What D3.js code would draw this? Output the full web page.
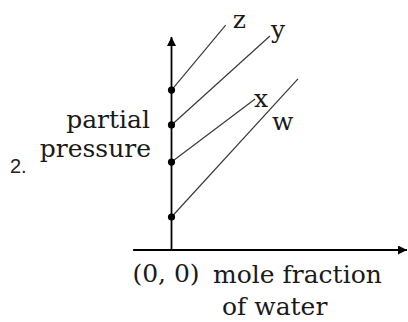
<!DOCTYPE html>
<html>
<head>
<meta charset="utf-8">
<script src="https://cdn.jsdelivr.net/npm/d3@7"></script>
<style>
  body { margin: 0; background: #fff; }
  svg { display: block; }
  .serif { font-family: "DejaVu Serif", serif; fill: #1a1a1a; }
</style>
</head>
<body>
<div id="chart"></div>
<script>
// Series names (one line per liquid)
const seriesNames = ['w', 'x', 'y', 'z'];
// Partial pressure where each line meets the y axis (mole fraction 0)
const startPressure = [0.155, 0.413, 0.587, 0.751];
// Where each line stops
const endFraction = [0.537, 0.355, 0.418, 0.230];
const endPressure = [0.803, 0.709, 1.005, 1.056];
// Axis extents in data units
const xAxisExtent = [-0.163, 1];
const yAxisExtent = [0, 1];

const width = 408, height = 322;

const svg = d3.select('#chart')
    .append('svg')
    .attr('width', width)
    .attr('height', height);

const x = d3.scaleLinear().domain([0, 1]).range([171.5, 407]);
const y = d3.scaleLinear().domain([0, 1]).range([250, 37]);

// Arrowhead marker
const defs = svg.append('defs');
defs.append('marker')
    .attr('id', 'arrow')
    .attr('viewBox', '0 0 10 10')
    .attr('refX', 10)
    .attr('refY', 5)
    .attr('markerUnits', 'userSpaceOnUse')
    .attr('markerWidth', 10.5)
    .attr('markerHeight', 9)
    .attr('orient', 'auto')
    .append('path')
    .attr('d', 'M0,0 L10,5 L0,10 Z')
    .attr('fill', '#000');

// Axes
svg.append('line')
    .attr('x1', x(xAxisExtent[0])).attr('y1', y(0))
    .attr('x2', x(xAxisExtent[1])).attr('y2', y(0))
    .attr('stroke', '#000').attr('stroke-width', 1.8)
    .attr('marker-end', 'url(#arrow)');

svg.append('line')
    .attr('x1', x(0)).attr('y1', y(yAxisExtent[0]))
    .attr('x2', x(0)).attr('y2', y(yAxisExtent[1]))
    .attr('stroke', '#000').attr('stroke-width', 1.8)
    .attr('marker-end', 'url(#arrow)');

const series = seriesNames.map((name, i) => ({
    name,
    points: [[0, startPressure[i]], [endFraction[i], endPressure[i]]]
}));

const line = d3.line()
    .x(d => x(d[0]))
    .y(d => y(d[1]));

svg.append('g')
    .selectAll('path')
    .data(series)
    .enter()
    .append('path')
    .attr('d', d => line(d.points))
    .attr('fill', 'none')
    .attr('stroke', '#3a3a3a')
    .attr('stroke-width', 1.2);

svg.append('g')
    .selectAll('circle')
    .data(series)
    .enter()
    .append('circle')
    .attr('cx', d => x(d.points[0][0]))
    .attr('cy', d => y(d.points[0][1]))
    .attr('r', 3.6)
    .attr('fill', '#000');

// label offsets from the end of each line
const labelOffset = { w: [-26, 51], x: [-1, 8], y: [1, 2], z: [7, 3] };

svg.append('g')
    .selectAll('text')
    .data(series)
    .enter()
    .append('text')
    .attr('class', 'serif')
    .attr('font-size', 25)
    .attr('x', d => x(d.points[1][0]) + labelOffset[d.name][0])
    .attr('y', d => y(d.points[1][1]) + labelOffset[d.name][1])
    .text(d => d.name);

// Axis titles
const yTitle = svg.append('text')
    .attr('class', 'serif')
    .attr('font-size', 25)
    .attr('text-anchor', 'end');
yTitle.append('tspan').attr('x', 150).attr('y', 128).text('partial');
yTitle.append('tspan').attr('x', 151).attr('y', 157).text('pressure');

svg.append('text')
    .attr('class', 'serif')
    .attr('font-size', 25)
    .attr('text-anchor', 'middle')
    .attr('x', 166).attr('y', 282)
    .text('(0, 0)');

const xTitle = svg.append('text')
    .attr('class', 'serif')
    .attr('font-size', 25);
xTitle.append('tspan').attr('x', 213).attr('y', 283).text('mole fraction');
xTitle.append('tspan').attr('x', 222).attr('y', 315).text('of water');

svg.append('text')
    .attr('x', 10).attr('y', 173)
    .attr('font-family', 'Liberation Sans, Arial, sans-serif')
    .attr('font-size', 20)
    .attr('fill', '#222')
    .text('2.');
</script>
</body>
</html>
